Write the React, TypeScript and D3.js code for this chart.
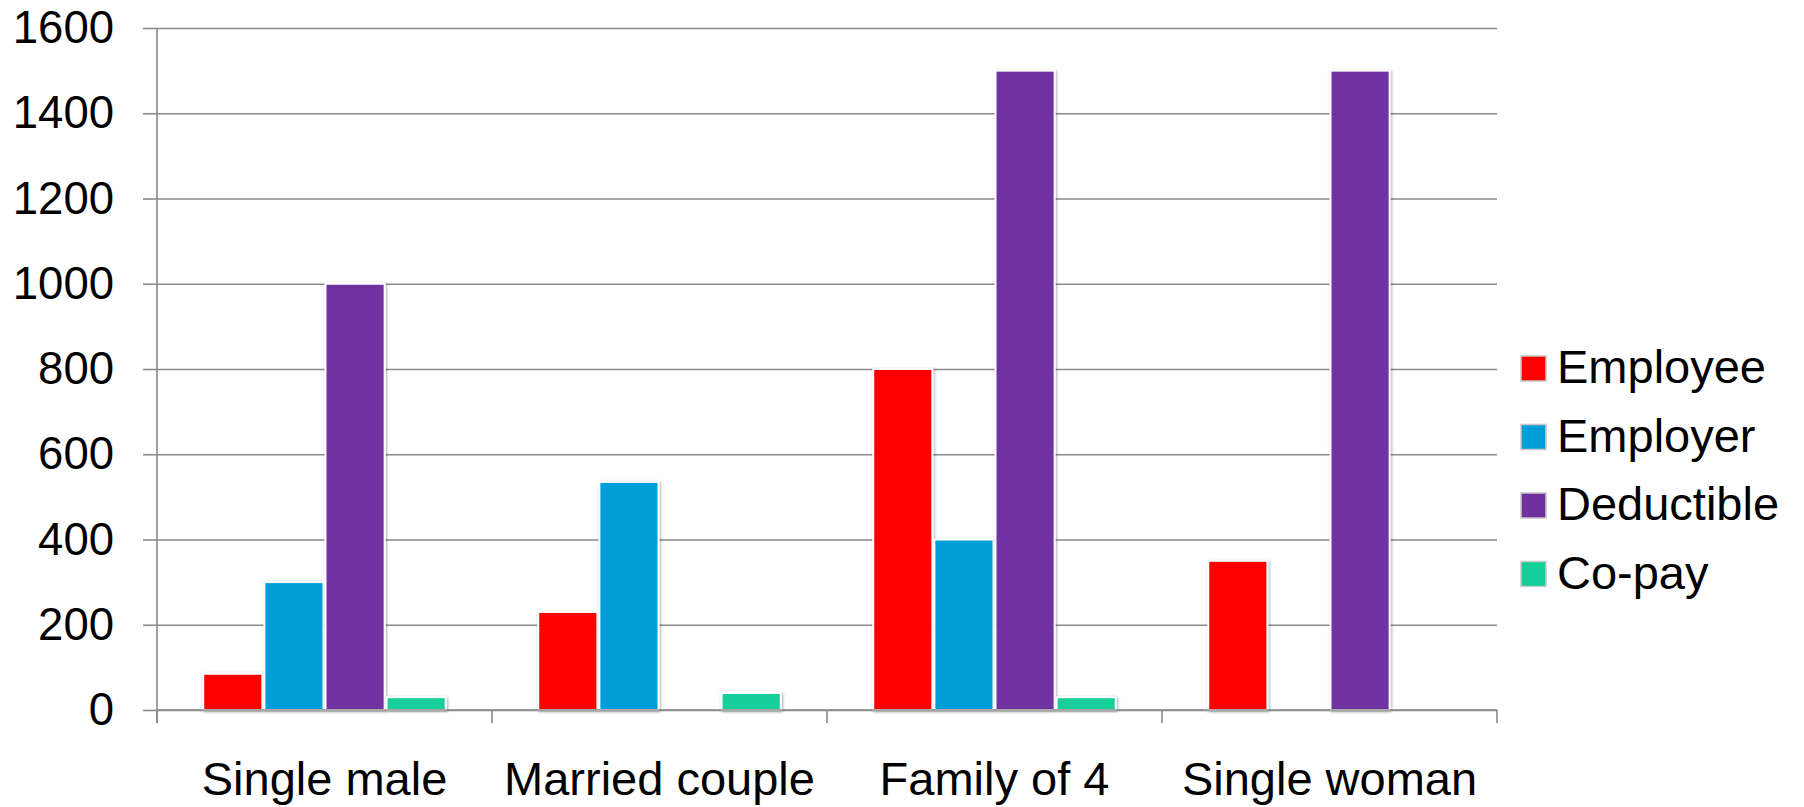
import React, { useEffect, useRef } from 'react';
import * as d3 from 'd3';

const categories = ['Single male', 'Married couple', 'Family of 4', 'Single woman'];
const seriesNames = ['Employee', 'Employer', 'Deductible', 'Co-pay'];
const employee = [85, 230, 800, 350];
const employer = [300, 535, 400, 0];
const deductible = [1000, 0, 1500, 1500];
const copay = [30, 40, 30, 0];
const yTicks = [0, 200, 400, 600, 800, 1000, 1200, 1400, 1600];
const colors = ['#ff0000', '#009ed8', '#7030a0', '#12cf9a'];

const BarChart = () => {
  const svgRef = useRef(null);

  const width = 1804;
  const height = 807;
  const margin = { top: 28, right: 307, bottom: 97, left: 157 };
  const font = '"Liberation Sans", Arial, sans-serif';

  useEffect(() => {
    const svg = d3.select(svgRef.current);
    svg.selectAll('*').remove();

    const values = [employee, employer, deductible, copay];
    const data = categories.map((c, i) => ({
      category: c,
      bars: seriesNames.map((s, j) => ({ key: s, value: values[j][i] }))
    }));

    const x0 = d3.scaleBand()
      .domain(categories)
      .range([margin.left, width - margin.right]);

    const x1 = d3.scaleBand()
      .domain(seriesNames)
      .range([0, x0.bandwidth()])
      .paddingInner(0)
      .paddingOuter(0.74);

    const y = d3.scaleLinear()
      .domain([0, 1600])
      .range([height - margin.bottom, margin.top]);

    const color = d3.scaleOrdinal<string>().domain(seriesNames).range(colors);

    const defs = svg.append('defs');
    defs.append('filter')
      .attr('id', 'shadow')
      .attr('x', '-20%').attr('y', '-20%').attr('width', '140%').attr('height', '140%')
      .append('feDropShadow')
      .attr('dx', 1).attr('dy', 1)
      .attr('stdDeviation', 1.5)
      .attr('flood-color', '#000')
      .attr('flood-opacity', 0.35);

    // gridlines + y axis labels
    const yAxis: any = d3.axisLeft(y)
      .tickValues(yTicks)
      .tickSize(14)
      .tickPadding(29)
      .tickFormat(d3.format('d'));

    svg.append('g')
      .attr('transform', `translate(${margin.left}, 0)`)
      .call(yAxis)
      .call(g => g.select('.domain').remove())
      .call(g => g.selectAll('.tick line')
        .attr('stroke', '#8a8a8a')
        .attr('stroke-width', 1.6)
        .clone()
        .attr('x1', 0)
        .attr('x2', width - margin.right - margin.left))
      .call(g => g.selectAll('.tick text')
        .attr('font-family', font)
        .attr('font-size', 45.5)
        .attr('fill', '#000'));

    // vertical y axis line
    svg.append('line')
      .attr('x1', margin.left).attr('x2', margin.left)
      .attr('y1', margin.top).attr('y2', height - margin.bottom + 13)
      .attr('stroke', '#8a8a8a')
      .attr('stroke-width', 1.6);

    // bars
    const group = svg.append('g')
      .selectAll('g')
      .data(data)
      .join('g')
      .attr('transform', d => `translate(${x0(d.category)}, 0)`);

    group.selectAll('rect')
      .data(d => d.bars.filter(b => b.value > 0))
      .join('rect')
      .attr('x', d => (x1(d.key) as number) + 1)
      .attr('width', x1.bandwidth() - 2)
      .attr('y', d => y(d.value))
      .attr('height', d => y(0) - y(d.value))
      .attr('fill', d => color(d.key))
      .attr('stroke', '#fff')
      .attr('stroke-width', 2)
      .attr('filter', 'url(#shadow)');

    // x axis
    const xAxisY = height - margin.bottom;
    svg.append('line')
      .attr('x1', margin.left).attr('x2', width - margin.right)
      .attr('y1', xAxisY).attr('y2', xAxisY)
      .attr('stroke', '#8a8a8a')
      .attr('stroke-width', 1.6);

    const bounds = categories.map(c => x0(c) as number).concat([width - margin.right]);
    svg.append('g')
      .selectAll('line')
      .data(bounds)
      .join('line')
      .attr('x1', d => d).attr('x2', d => d)
      .attr('y1', xAxisY).attr('y2', xAxisY + 13)
      .attr('stroke', '#8a8a8a')
      .attr('stroke-width', 1.6);

    svg.append('g')
      .selectAll('text')
      .data(categories)
      .join('text')
      .attr('x', d => (x0(d) as number) + x0.bandwidth() / 2)
      .attr('y', 795)
      .attr('text-anchor', 'middle')
      .attr('font-family', font)
      .attr('font-size', 47)
      .attr('fill', '#000')
      .text(d => d);

    // legend
    const legend = svg.append('g')
      .selectAll('g')
      .data(seriesNames)
      .join('g')
      .attr('transform', (d, i) => `translate(1521, ${356 + i * 68.5})`);

    legend.append('rect')
      .attr('width', 25)
      .attr('height', 25)
      .attr('fill', d => color(d))
      .attr('stroke', '#c8c8c8')
      .attr('stroke-width', 1.5);

    legend.append('text')
      .attr('x', 36)
      .attr('y', 27)
      .attr('font-family', font)
      .attr('font-size', 47)
      .attr('fill', '#000')
      .text(d => d);
  }, []);

  return (
    <svg
      ref={svgRef}
      width={width}
      height={height}
      style={{ position: 'absolute', left: 0, top: 0, background: '#fff' }}
    />
  );
};

export default function App() {
  return <BarChart />;
}
